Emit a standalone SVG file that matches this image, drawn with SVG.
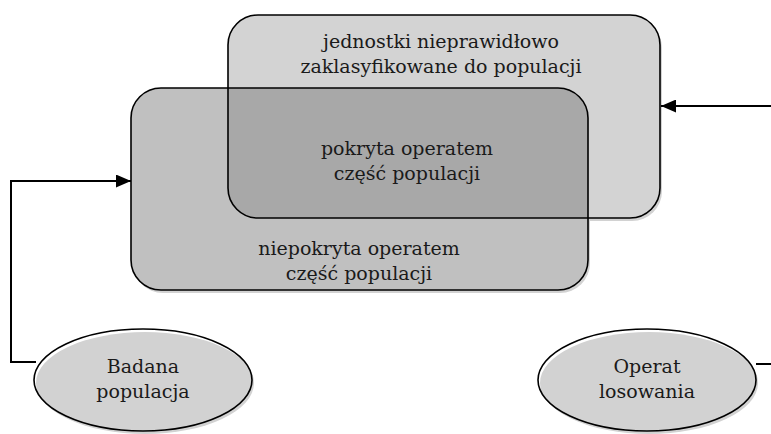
<svg xmlns="http://www.w3.org/2000/svg" width="771" height="434" viewBox="0 0 771 434">
  <defs>
    <style>
      .lbl { font-family: "DejaVu Serif", "Liberation Serif", serif; font-size: 19px; fill: #1a1a1a; text-anchor: middle; }
      .edge { fill: none; stroke: #000; stroke-width: 1.6; }
      .shadow { fill: #d2d2d2; }
      .conn { fill: none; stroke: #000; stroke-width: 2; }
    </style>
    <marker id="arrow" viewBox="0 0 15 13" refX="15" refY="6.5" markerWidth="15" markerHeight="13" orient="auto" markerUnits="userSpaceOnUse">
      <path d="M0,0 L15,6.5 L0,13 Z" fill="#000"/>
    </marker>
    <rect id="shape-top" x="228" y="15" width="432" height="203" rx="30"/>
    <rect id="shape-low" x="131" y="88" width="457" height="202" rx="30"/>
    <clipPath id="clip-low">
      <use href="#shape-low"/>
    </clipPath>
  </defs>

  <rect width="771" height="434" fill="#fff"/>

  <!-- drop shadows -->
  <use href="#shape-top" class="shadow" transform="translate(2,3)"/>
  <use href="#shape-low" class="shadow" transform="translate(2,3)"/>
  <ellipse class="shadow" cx="145" cy="383" rx="109" ry="51"/>
  <ellipse class="shadow" cx="649" cy="383" rx="109" ry="51"/>

  <!-- misclassified units -->
  <g id="node-misclassified">
    <use href="#shape-top" fill="#d3d3d3"/>
  </g>

  <!-- population: uncovered part, with the covered part where both boxes overlap -->
  <g id="node-population">
    <use href="#shape-low" fill="#c0c0c0"/>
    <use href="#shape-top" fill="#a8a8a8" clip-path="url(#clip-low)"/>
    <use href="#shape-low" class="edge"/>
  </g>

  <!-- outline of the upper box stays visible across the overlap -->
  <use href="#shape-top" class="edge"/>

  <g id="labels">
    <text class="lbl" x="441" y="48">jednostki nieprawidłowo</text>
    <text class="lbl" x="441" y="73">zaklasyfikowane do populacji</text>
    <text class="lbl" x="407" y="155">pokryta operatem</text>
    <text class="lbl" x="407" y="180">część populacji</text>
    <text class="lbl" x="359" y="255">niepokryta operatem</text>
    <text class="lbl" x="359" y="280">część populacji</text>
  </g>

  <g id="node-badana">
    <ellipse class="edge" cx="143" cy="380" rx="109" ry="51" fill="#c8c8c8"/>
    <text class="lbl" x="143" y="373">Badana</text>
    <text class="lbl" x="143" y="398">populacja</text>
  </g>

  <g id="node-operat">
    <ellipse class="edge" cx="647" cy="380" rx="109" ry="51" fill="#c8c8c8"/>
    <text class="lbl" x="647" y="373">Operat</text>
    <text class="lbl" x="647" y="398">losowania</text>
  </g>

  <g id="connectors">
    <path class="conn" d="M36,362 H11 V181 H131" marker-end="url(#arrow)"/>
    <path class="conn" d="M756,364 H776 V106 H661" marker-end="url(#arrow)"/>
  </g>
</svg>
